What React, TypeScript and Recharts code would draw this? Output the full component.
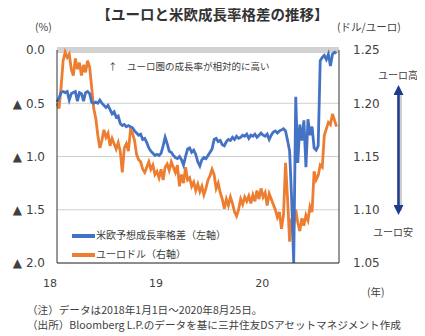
import React from 'react';
import { ComposedChart, Line, XAxis, YAxis, CartesianGrid, ReferenceLine, Legend } from 'recharts';

// weekly samples from 2018-01-01 to 2020-08-25
const gapSeries = [
  -0.49, -0.45, -0.40, -0.39, -0.40, -0.39, -0.47, -0.41, -0.40, -0.39,
  -0.48, -0.40, -0.41, -0.48, -0.40, -0.39, -0.41, -0.49, -0.50, -0.49,
  -0.50, -0.47, -0.50, -0.52, -0.54, -0.52, -0.56, -0.60, -0.58, -0.63,
  -0.62, -0.69, -0.71, -0.70, -0.72, -0.71, -0.72, -0.73, -0.76, -0.78,
  -0.80, -0.79, -0.84, -0.83, -0.87, -0.92, -0.95, -0.97, -0.99, -0.98,
  -0.99, -0.97, -0.90, -0.82, -0.88, -0.95, -0.96, -0.99, -1.01, -1.02,
  -1.00, -1.03, -1.08, -1.00, -0.93, -0.92, -0.96, -0.94, -0.98, -1.05,
  -1.09, -1.03, -1.01, -1.02, -0.99, -0.96, -0.93, -0.84, -0.83, -0.86,
  -0.85, -0.89, -0.90, -0.86, -0.84, -0.85, -0.82, -0.84, -0.81, -0.83,
  -0.82, -0.80, -0.81, -0.79, -0.83, -0.80, -0.81, -0.79, -0.82, -0.80,
  -0.78, -0.80, -0.81, -0.79, -0.84, -0.80, -0.77, -0.76, -0.78, -0.76,
  -0.75, -0.74, -0.76, -0.85, -0.95, -1.40, -2.00, -0.44, -1.06, -0.70,
  -0.85, -0.66, -1.10, -0.65, -0.80, -0.72, -0.92, -0.94, -0.90, -0.10,
  -0.07, -0.05, -0.09, -0.04, -0.15, -0.04, -0.02, -0.03,
];

const eurUsd = [
  1.200, 1.195, 1.215, 1.240, 1.248, 1.243, 1.246, 1.232, 1.226, 1.242,
  1.232, 1.238, 1.226, 1.236, 1.229, 1.240, 1.234, 1.215, 1.195, 1.186,
  1.170, 1.158, 1.165, 1.175, 1.168, 1.172, 1.160, 1.167, 1.162, 1.157,
  1.163, 1.155, 1.135, 1.158, 1.162, 1.155, 1.175, 1.172, 1.165, 1.152,
  1.147, 1.145, 1.138, 1.135, 1.140, 1.145, 1.138, 1.142, 1.133, 1.136,
  1.130, 1.138, 1.128, 1.140, 1.143, 1.137, 1.145, 1.140, 1.135, 1.142,
  1.122, 1.133, 1.125, 1.140, 1.128, 1.130, 1.122, 1.126, 1.118, 1.124,
  1.117, 1.122, 1.114, 1.120, 1.128, 1.132, 1.138, 1.133, 1.120, 1.125,
  1.116, 1.110, 1.101, 1.110, 1.104, 1.112, 1.106, 1.098, 1.094, 1.100,
  1.110, 1.105, 1.112, 1.108, 1.113, 1.106, 1.114, 1.108, 1.118, 1.110,
  1.120, 1.112, 1.116, 1.104, 1.115, 1.110, 1.105, 1.100, 1.093, 1.098,
  1.082, 1.095, 1.144, 1.110, 1.070, 1.092, 1.085, 1.100, 1.088, 1.080,
  1.092, 1.085, 1.095, 1.090, 1.103, 1.098, 1.136, 1.128, 1.132, 1.142,
  1.140, 1.170, 1.176, 1.182, 1.180, 1.190, 1.184, 1.178,
];

const yearTicks = [0, 52, 104];
const yearLabels = ['18', '19', '20'];
const leftTicks = [-2, -1.5, -1, -0.5, 0];
const rightTicks = [1.05, 1.1, 1.15, 1.2, 1.25];

const data = gapSeries.map((g, i) => ({ week: i, gap: g, eur: eurUsd[i] }));

const JP = "'Noto Sans CJK JP', sans-serif";
const NUM = "'DejaVu Sans', sans-serif";
const BLUE = '#4472c4';
const ORANGE = '#ed7d31';
const TXT = '#404040';

const abs = (style: React.CSSProperties): React.CSSProperties => ({
  position: 'absolute', fontFamily: JP, color: TXT, whiteSpace: 'nowrap', lineHeight: 1, ...style,
});

const YearTick = (props: any) => {
  const { x, y, payload } = props;
  return (
    <text x={x - 7} y={y + 8} dy="0.71em" textAnchor="middle" fill={TXT} fontSize={11} fontFamily={NUM}>
      {yearLabels[yearTicks.indexOf(payload.value)]}
    </text>
  );
};

const LegendBox = () => (
  <div style={{ position: 'absolute', left: 0, top: 0 }}>
    <div style={{ position: 'absolute', left: 72, top: 234, width: 23, height: 4, background: BLUE }} />
    <div style={abs({ left: 96, top: 230, fontSize: 10 })}>米欧予想成長率格差（左軸）</div>
    <div style={{ position: 'absolute', left: 72, top: 253, width: 23, height: 4, background: ORANGE }} />
    <div style={abs({ left: 96, top: 249, fontSize: 10 })}>ユーロドル（右軸）</div>
  </div>
);

export default function App() {
  return (
    <div style={{ position: 'relative', width: 425, height: 336, marginLeft: -8, marginTop: -8, background: '#fff' }}>
      <div style={abs({ left: 0, width: 425, top: 7, textAlign: 'center', fontSize: 14.5, fontWeight: 700, color: '#333' })}>
        【ユーロと米欧成長率格差の推移】
      </div>
      <div style={abs({ left: 35, top: 22, fontSize: 10.5 })}>(%)</div>
      <div style={abs({ left: 337, top: 22, fontSize: 10.5 })}>(ドル/ユーロ)</div>

      <ComposedChart
        width={425}
        height={336}
        data={data}
        margin={{ top: 50, right: 0, left: 0, bottom: 53 }}
        style={{ position: 'absolute', left: 0, top: 0 }}
      >
        <CartesianGrid vertical={false} stroke="#d0d0d0" yAxisId="left" />
        <XAxis
          dataKey="week"
          type="number"
          domain={[0, 138.2]}
          ticks={yearTicks}
          height={20}
          tickLine={false}
          axisLine={{ stroke: '#333' }}
          tick={<YearTick />}
        />
        <YAxis
          yAxisId="left"
          width={57}
          domain={[-2, 0]}
          ticks={leftTicks}
          tickFormatter={(v: number) => (v === 0 ? '0.0' : '▲ ' + Math.abs(v).toFixed(1))}
          tickLine={false}
          tickSize={6}
          tickMargin={6}
          axisLine={{ stroke: '#333' }}
          tick={{ fill: TXT, fontSize: 12, fontFamily: NUM }}
        />
        <YAxis
          yAxisId="right"
          orientation="right"
          width={86}
          domain={[1.05, 1.25]}
          ticks={rightTicks}
          tickFormatter={(v: number) => v.toFixed(2)}
          tickLine={false}
          tickSize={6}
          tickMargin={8}
          axisLine={{ stroke: '#333' }}
          tick={{ fill: TXT, fontSize: 12, fontFamily: NUM }}
        />
        <ReferenceLine yAxisId="left" y={0} stroke="#d2d2d2" strokeWidth={6} />
        <Line
          yAxisId="right"
          dataKey="eur"
          stroke={ORANGE}
          strokeWidth={2.8}
          dot={false}
          isAnimationActive={false}
        />
        <Line
          yAxisId="left"
          dataKey="gap"
          stroke={BLUE}
          strokeWidth={2.8}
          dot={false}
          isAnimationActive={false}
        />
        <Legend content={() => <LegendBox />} wrapperStyle={{ position: 'absolute', left: 0, top: 0, width: 0, height: 0 }} />
      </ComposedChart>

      <div style={abs({ left: 108, top: 62, fontSize: 9.5 })}>↑　ユーロ圏の成長率が相対的に高い</div>

      <div style={abs({ left: 378, top: 70, fontSize: 10 })}>ユーロ高</div>
      <svg style={{ position: 'absolute', left: 390, top: 84 }} width={20} height={136}>
        <defs>
          <marker id="ah" markerWidth="4" markerHeight="4" refX="2" refY="2" orient="auto-start-reverse" markerUnits="strokeWidth">
            <path d="M0,0 L4,2 L0,4 z" fill="#1f3c8c" />
          </marker>
        </defs>
        <line x1={9.5} y1={7} x2={9.5} y2={127} stroke="#cfcfcf" strokeWidth={5} />
        <line x1={8.5} y1={6} x2={8.5} y2={126} stroke="#1f3c8c" strokeWidth={2.5} markerStart="url(#ah)" markerEnd="url(#ah)" />
      </svg>
      <div style={abs({ left: 373, top: 227, fontSize: 10 })}>ユーロ安</div>

      <div style={abs({ left: 367, top: 287, fontSize: 10.5 })}>(年)</div>
      <div style={abs({ left: 27, top: 305, fontSize: 10.6 })}>（注）データは2018年1月1日～2020年8月25日。</div>
      <div style={abs({ left: 27, top: 320, fontSize: 10.6 })}>（出所）Bloomberg L.P.のデータを基に三井住友DSアセットマネジメント作成</div>
    </div>
  );
}
